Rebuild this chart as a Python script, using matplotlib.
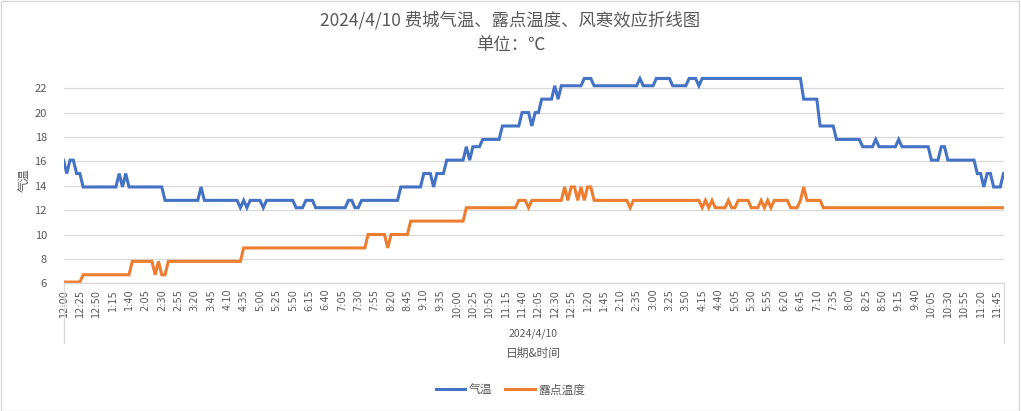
import matplotlib
matplotlib.use("Agg")
import matplotlib.pyplot as plt
from matplotlib.patches import Rectangle

plt.rcParams["font.family"] = ["Noto Sans CJK SC", "DejaVu Sans"]

# ------------------------------------------------------------
# 2024/4/10 Philadelphia: air temperature and dew point (degC),
# one reading every 5 minutes, 12:00 AM .. 11:55 PM (288 points).
# Each row below is one hour (12 readings).
# ------------------------------------------------------------
TEMP = [
    16.1, 15.0, 16.1, 16.1, 15.0, 15.0, 13.9, 13.9, 13.9, 13.9, 13.9, 13.9,
    13.9, 13.9, 13.9, 13.9, 13.9, 15.0, 13.9, 15.0, 13.9, 13.9, 13.9, 13.9,
    13.9, 13.9, 13.9, 13.9, 13.9, 13.9, 13.9, 12.8, 12.8, 12.8, 12.8, 12.8,
    12.8, 12.8, 12.8, 12.8, 12.8, 12.8, 13.9, 12.8, 12.8, 12.8, 12.8, 12.8,
    12.8, 12.8, 12.8, 12.8, 12.8, 12.8, 12.2, 12.8, 12.2, 12.8, 12.8, 12.8,
    12.8, 12.2, 12.8, 12.8, 12.8, 12.8, 12.8, 12.8, 12.8, 12.8, 12.8, 12.2,
    12.2, 12.2, 12.8, 12.8, 12.8, 12.2, 12.2, 12.2, 12.2, 12.2, 12.2, 12.2,
    12.2, 12.2, 12.2, 12.8, 12.8, 12.2, 12.2, 12.8, 12.8, 12.8, 12.8, 12.8,
    12.8, 12.8, 12.8, 12.8, 12.8, 12.8, 12.8, 13.9, 13.9, 13.9, 13.9, 13.9,
    13.9, 13.9, 15.0, 15.0, 15.0, 13.9, 15.0, 15.0, 15.0, 16.1, 16.1, 16.1,
    16.1, 16.1, 16.1, 17.2, 16.1, 17.2, 17.2, 17.2, 17.8, 17.8, 17.8, 17.8,
    17.8, 17.8, 18.9, 18.9, 18.9, 18.9, 18.9, 18.9, 20.0, 20.0, 20.0, 18.9,
    20.0, 20.0, 21.1, 21.1, 21.1, 21.1, 22.2, 21.1, 22.2, 22.2, 22.2, 22.2,
    22.2, 22.2, 22.2, 22.8, 22.8, 22.8, 22.2, 22.2, 22.2, 22.2, 22.2, 22.2,
    22.2, 22.2, 22.2, 22.2, 22.2, 22.2, 22.2, 22.2, 22.8, 22.2, 22.2, 22.2,
    22.2, 22.8, 22.8, 22.8, 22.8, 22.8, 22.2, 22.2, 22.2, 22.2, 22.2, 22.8,
    22.8, 22.8, 22.2, 22.8, 22.8, 22.8, 22.8, 22.8, 22.8, 22.8, 22.8, 22.8,
    22.8, 22.8, 22.8, 22.8, 22.8, 22.8, 22.8, 22.8, 22.8, 22.8, 22.8, 22.8,
    22.8, 22.8, 22.8, 22.8, 22.8, 22.8, 22.8, 22.8, 22.8, 22.8, 21.1, 21.1,
    21.1, 21.1, 21.1, 18.9, 18.9, 18.9, 18.9, 18.9, 17.8, 17.8, 17.8, 17.8,
    17.8, 17.8, 17.8, 17.8, 17.2, 17.2, 17.2, 17.2, 17.8, 17.2, 17.2, 17.2,
    17.2, 17.2, 17.2, 17.8, 17.2, 17.2, 17.2, 17.2, 17.2, 17.2, 17.2, 17.2,
    17.2, 16.1, 16.1, 16.1, 17.2, 17.2, 16.1, 16.1, 16.1, 16.1, 16.1, 16.1,
    16.1, 16.1, 16.1, 15.0, 15.0, 13.9, 15.0, 15.0, 13.9, 13.9, 13.9, 15.0,
]

DEW_POINT = [
    6.1, 6.1, 6.1, 6.1, 6.1, 6.1, 6.7, 6.7, 6.7, 6.7, 6.7, 6.7,
    6.7, 6.7, 6.7, 6.7, 6.7, 6.7, 6.7, 6.7, 6.7, 7.8, 7.8, 7.8,
    7.8, 7.8, 7.8, 7.8, 6.7, 7.8, 6.7, 6.7, 7.8, 7.8, 7.8, 7.8,
    7.8, 7.8, 7.8, 7.8, 7.8, 7.8, 7.8, 7.8, 7.8, 7.8, 7.8, 7.8,
    7.8, 7.8, 7.8, 7.8, 7.8, 7.8, 7.8, 8.9, 8.9, 8.9, 8.9, 8.9,
    8.9, 8.9, 8.9, 8.9, 8.9, 8.9, 8.9, 8.9, 8.9, 8.9, 8.9, 8.9,
    8.9, 8.9, 8.9, 8.9, 8.9, 8.9, 8.9, 8.9, 8.9, 8.9, 8.9, 8.9,
    8.9, 8.9, 8.9, 8.9, 8.9, 8.9, 8.9, 8.9, 8.9, 10.0, 10.0, 10.0,
    10.0, 10.0, 10.0, 8.9, 10.0, 10.0, 10.0, 10.0, 10.0, 10.0, 11.1, 11.1,
    11.1, 11.1, 11.1, 11.1, 11.1, 11.1, 11.1, 11.1, 11.1, 11.1, 11.1, 11.1,
    11.1, 11.1, 11.1, 12.2, 12.2, 12.2, 12.2, 12.2, 12.2, 12.2, 12.2, 12.2,
    12.2, 12.2, 12.2, 12.2, 12.2, 12.2, 12.2, 12.8, 12.8, 12.8, 12.2, 12.8,
    12.8, 12.8, 12.8, 12.8, 12.8, 12.8, 12.8, 12.8, 12.8, 13.9, 12.8, 13.9,
    13.9, 12.8, 13.9, 12.8, 13.9, 13.9, 12.8, 12.8, 12.8, 12.8, 12.8, 12.8,
    12.8, 12.8, 12.8, 12.8, 12.8, 12.2, 12.8, 12.8, 12.8, 12.8, 12.8, 12.8,
    12.8, 12.8, 12.8, 12.8, 12.8, 12.8, 12.8, 12.8, 12.8, 12.8, 12.8, 12.8,
    12.8, 12.8, 12.8, 12.2, 12.8, 12.2, 12.8, 12.2, 12.2, 12.2, 12.2, 12.8,
    12.2, 12.2, 12.8, 12.8, 12.8, 12.8, 12.2, 12.2, 12.2, 12.8, 12.2, 12.8,
    12.2, 12.8, 12.8, 12.8, 12.8, 12.8, 12.2, 12.2, 12.2, 12.8, 13.9, 12.8,
    12.8, 12.8, 12.8, 12.8, 12.2, 12.2, 12.2, 12.2, 12.2, 12.2, 12.2, 12.2,
    12.2, 12.2, 12.2, 12.2, 12.2, 12.2, 12.2, 12.2, 12.2, 12.2, 12.2, 12.2,
    12.2, 12.2, 12.2, 12.2, 12.2, 12.2, 12.2, 12.2, 12.2, 12.2, 12.2, 12.2,
    12.2, 12.2, 12.2, 12.2, 12.2, 12.2, 12.2, 12.2, 12.2, 12.2, 12.2, 12.2,
    12.2, 12.2, 12.2, 12.2, 12.2, 12.2, 12.2, 12.2, 12.2, 12.2, 12.2, 12.2,
]

# category labels: 12:00, 12:05, ... 11:55 (12-hour clock, no AM/PM)
TIME_LABELS = []
for m in range(0, 24 * 60, 5):
    h = (m // 60) % 12
    TIME_LABELS.append(f"{12 if h == 0 else h}:{m % 60:02d}")

DATE_LABEL = "2024/4/10"
Y_TICKS = [6, 8, 10, 12, 14, 16, 18, 20, 22]

TEXT_GRAY = "#595959"
GRID_GRAY = "#d9d9d9"
BLUE = "#4472C4"
ORANGE = "#ED7D31"


def main():
    fig = plt.figure(figsize=(10.21, 4.11), dpi=100)
    W, H = 1021, 411
    left, right = 63.5, 1003.5
    top, bottom = 76.0, 283.3
    ax = fig.add_axes([left / W, 1 - bottom / H, (right - left) / W, (bottom - top) / H])

    x = list(range(len(TEMP)))
    ax.plot(x, TEMP, color=BLUE, lw=2.2, label="气温", solid_joinstyle="miter")
    ax.plot(x, DEW_POINT, color=ORANGE, lw=2.2, label="露点温度", solid_joinstyle="miter")

    ax.set_xlim(0, len(TEMP) - 1)
    ax.set_ylim(6, 23)
    ax.set_yticks(Y_TICKS)
    ax.set_yticklabels([str(v) for v in Y_TICKS], fontsize=8, color=TEXT_GRAY)
    ax.yaxis.grid(True, color=GRID_GRAY, lw=0.9)
    ax.set_axisbelow(True)

    ticks = list(range(0, len(TEMP), 5))
    ax.set_xticks(ticks)
    ax.set_xticklabels([TIME_LABELS[i] for i in ticks], rotation=90,
                       fontsize=7, color=TEXT_GRAY, family=["DejaVu Sans"])
    ax.tick_params(axis="both", length=0)
    ax.tick_params(axis="x", pad=4)
    ax.tick_params(axis="y", pad=12)

    for s in ["top", "right", "left"]:
        ax.spines[s].set_visible(False)
    ax.spines["bottom"].set_color(GRID_GRAY)
    ax.spines["bottom"].set_linewidth(0.9)

    # outer category level (date) bracket
    depth = -(343 - bottom) / (bottom - top)
    for xa in (0, 1):
        ax.plot([xa, xa], [0, depth], transform=ax.transAxes, clip_on=False,
                color=GRID_GRAY, lw=0.9)
    ax.text(0.5, -(334 - bottom) / (bottom - top), DATE_LABEL, transform=ax.transAxes,
            ha="center", va="center", fontsize=7.5, color=TEXT_GRAY)
    ax.text(0.5, -(353 - bottom) / (bottom - top), "日期&时间", transform=ax.transAxes,
            ha="center", va="center", fontsize=8.5, color=TEXT_GRAY)

    fig.text(25 / W, 1 - 180 / H, "气温", rotation=90, ha="center", va="center",
             fontsize=8.5, color=TEXT_GRAY)

    fig.text(0.5, 1 - 20 / H, "2024/4/10 费城气温、露点温度、风寒效应折线图",
             ha="center", va="center", fontsize=12.5, color=TEXT_GRAY)
    fig.text(0.5, 1 - 45 / H, "单位：℃", ha="center", va="center",
             fontsize=12.5, color=TEXT_GRAY)

    leg = fig.legend(loc="center", bbox_to_anchor=(0.5, 1 - 390 / H), ncol=2,
                     frameon=False, fontsize=8.5, handlelength=2.5,
                     handletextpad=0.3, columnspacing=1.1)
    for t in leg.get_texts():
        t.set_color(TEXT_GRAY)

    fig.patches.append(Rectangle((0.0005, 0.001), 0.998, 0.997, transform=fig.transFigure,
                                 fill=False, edgecolor=GRID_GRAY, lw=1.0))

    fig.savefig("out.png", dpi=100, facecolor="white")
    plt.close(fig)


if __name__ == "__main__":
    main()
